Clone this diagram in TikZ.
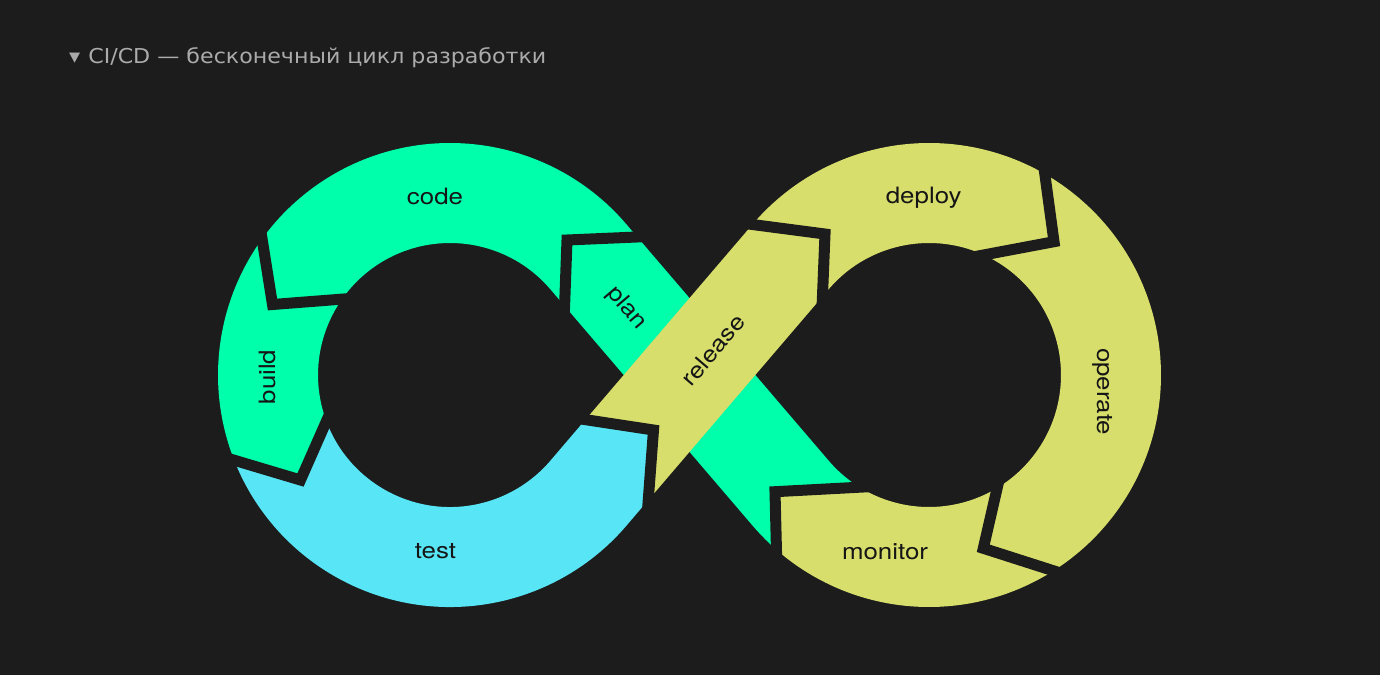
\documentclass[tikz,border=0pt]{standalone}
\usepackage{fontspec}
\newfontfamily\lblfont[FakeStretch=1.15]{TeX Gyre Heros}
\newfontfamily\ttlfont[FakeStretch=1.08]{DejaVu Sans}
\definecolor{bg}{HTML}{1C1C1C}
\definecolor{cgreen}{HTML}{00FFAA}
\definecolor{ccyan}{HTML}{58E6F6}
\definecolor{cyel}{HTML}{D8DE6C}
\definecolor{ctitle}{HTML}{ABABAB}
\definecolor{clabel}{HTML}{151515}
\begin{document}
\begin{tikzpicture}[x=1pt,y=-1pt,
  band/.style={line width=100pt, line cap=butt, line join=round},
  gapline/.style={draw=bg, line width=11pt, line join=miter, line cap=butt},
  lbl/.style={text=clabel, font=\lblfont\fontsize{22.5}{27}\selectfont, inner sep=0pt}]
\useasboundingbox (0,0) rectangle (1380,675);
\fill[bg] (0,0) rectangle (1380,675);
% tangent points
\coordinate (TL1) at (588.4,256.8);
\coordinate (TL2) at (588.4,493.2);
\coordinate (TR1) at (790.6,256.8);
\coordinate (TR2) at (790.6,493.2);
% cuts: outer end, vertex, inner end
\coordinate (E1o) at (660,236);   \coordinate (V1) at (567,240);     \coordinate (E1i) at (564,322);
\coordinate (E2o) at (257,207);   \coordinate (V2) at (272.5,304.5); \coordinate (E2i) at (356.5,298);
\coordinate (E3o) at (210,453);   \coordinate (V3) at (300.5,480);   \coordinate (E3i) at (334,404);
\coordinate (E4o) at (646,530);   \coordinate (V4) at (653.5,430);   \coordinate (E4i) at (568,417);
\coordinate (E5o) at (737,222.5); \coordinate (V5) at (825,234);     \coordinate (E5i) at (821.7,315);
\coordinate (E6o) at (1041.3,148.2); \coordinate (V6) at (1054,241.7); \coordinate (E6i) at (972.8,257);
\coordinate (E7o) at (1069.8,576); \coordinate (V7) at (983.3,548.3); \coordinate (E7i) at (1002,467);
\coordinate (E8o) at (777,572);   \coordinate (V8) at (775,491.7);   \coordinate (E8i) at (882,486);
% green: monitor cut -> plan -> code -> build
\begin{scope}
\clip (V8) -- (E8i) -- (900,486) -- (900,100) -- (100,100) -- (100,453) -- (E3o) -- (V3) -- (E3i)
  -- (420,400) -- (560,400) -- (700,600) -- (E8o) -- cycle;
\draw[band, cgreen] (852.1,539.9) arc[start angle=115, end angle=139.5, radius=182]
  -- (TL1) arc[start angle=319.5, end angle=120, radius=182];
\end{scope}
% cyan: test
\begin{scope}
\clip (E3o) -- (V3) -- (E3i) -- (450,375) -- (E4i) -- (V4) -- (E4o) -- (660,680) -- (150,680) -- (150,460) -- cycle;
\draw[band, ccyan] (274.2,422.1) arc[start angle=165, end angle=40.5, radius=182] -- (685.75,379.2);
\end{scope}
% yellow: release, deploy, operate, monitor
\begin{scope}
\clip (V4) -- (E4i) -- (600,100) -- (1250,100) -- (1250,650) -- (777,650) -- (E8o) -- (V8) -- (E8i)
  -- (929,375) -- (810,380) -- (745,440) -- (700,520) -- (E4o) -- cycle;
\draw[band, cyel] (TL2) -- (TR1) arc[start angle=-139.5, end angle=139.5, radius=182] -- (764.6,462.8);
\end{scope}
% gaps
\draw[gapline] (E1o) -- (V1) -- (E1i);
\draw[gapline] (E2o) -- (V2) -- (E2i);
\draw[gapline] (E3o) -- (V3) -- (E3i);
\draw[gapline] (E4o) -- (V4) -- (E4i);
\draw[gapline] (E5o) -- (V5) -- (E5i);
\draw[gapline] (E6o) -- (V6) -- (E6i);
\draw[gapline] (E7o) -- (V7) -- (E7i);
\draw[gapline] (E8o) -- (V8) -- (E8i);
% labels
\node[lbl] (code) at (435,196) {code};
\node[lbl] (test) at (435.5,551) {test};
\node[lbl, rotate=90] (build) at (267,377) {build};
\node[lbl] (deploy) at (923.7,197.5) {deploy};
\node[lbl] (monitor) at (885,551.7) {monitor};
\node[lbl, rotate=-90] (operate) at (1102.5,391.7) {operate};
\node[lbl, rotate=-49.5] (plan) at (626.7,308) {plan};
\node[lbl, rotate=49.5] (release) at (713,350) {release};
% title
\node[anchor=base west, inner sep=0pt, text=ctitle, font=\ttlfont\fontsize{20.5}{24}\selectfont] (title) at (69,63.5) {▾\hspace{8pt}CI/CD — бесконечный цикл разработки};
\end{tikzpicture}
\end{document}
